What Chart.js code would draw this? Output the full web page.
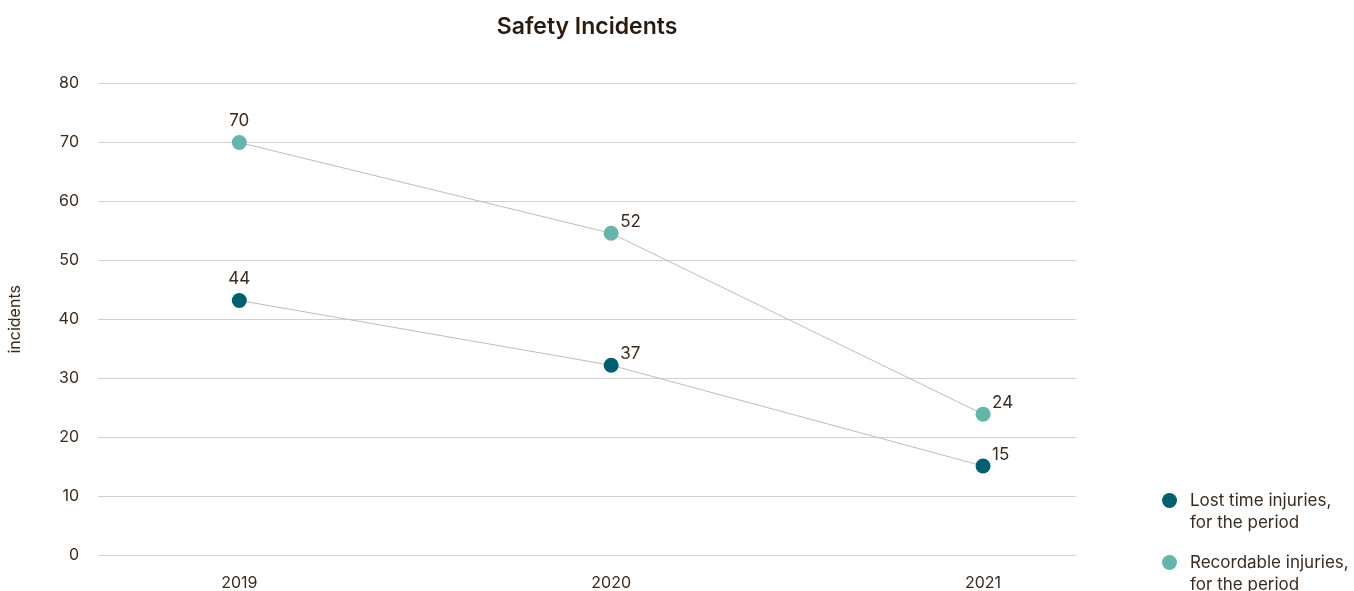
<!DOCTYPE html>
<html>
<head>
<meta charset="utf-8">
<script src="https://cdn.jsdelivr.net/npm/chart.js@4"></script>
<style>
  html, body { margin: 0; padding: 0; background: #fff; }
  #wrap { position: relative; width: 1354px; height: 591px; overflow: hidden; }
  #legend { position: absolute; left: 1162px; top: 489px; font-family: Inter, sans-serif; font-size: 17px; color: #3b2a20; }
  .item { display: flex; align-items: flex-start; margin-bottom: 18px; }
  .dot { width: 15px; height: 15px; border-radius: 50%; margin-top: 4px; margin-right: 13px; flex: none; }
  .txt { line-height: 22px; }
</style>
</head>
<body>
<div id="wrap">
  <canvas id="c" width="1354" height="591"></canvas>
  <div id="legend"></div>
</div>
<script>
const years = [2019, 2020, 2021];
const yearLabels = ["2019", "2020", "2021"];
const lostTime = [43.2, 32.2, 15.1];
const lostTimeLabels = ["44", "37", "15"];
const recordable = [70, 54.6, 23.9];
const recordableLabels = ["70", "52", "24"];
const seriesNames = [["Lost time injuries,", "for the period"], ["Recordable injuries,", "for the period"]];
const yTicks = [0, 10, 20, 30, 40, 50, 60, 70, 80];

const colLost = '#005f6e';
const colRec = '#66b5aa';
const textCol = '#3b2a20';
const fontFam = 'Inter, sans-serif';

const labelPlugin = {
  id: 'pointLabels',
  afterDatasetsDraw(chart) {
    const ctx = chart.ctx;
    ctx.save();
    ctx.font = '17px ' + fontFam;
    ctx.fillStyle = textCol;
    ctx.textBaseline = 'middle';
    chart.data.datasets.forEach((ds, di) => {
      const meta = chart.getDatasetMeta(di);
      meta.data.forEach((pt, i) => {
        const txt = ds.valueLabels[i];
        if (i === 0) {
          ctx.textAlign = 'center';
          ctx.fillText(txt, pt.x, pt.y - 22);
        } else {
          ctx.textAlign = 'left';
          ctx.fillText(txt, pt.x + 9, pt.y - 11);
        }
      });
    });
    ctx.restore();
  }
};

new Chart(document.getElementById('c'), {
  type: 'line',
  data: {
    datasets: [
      {
        label: seriesNames[0].join(' '),
        data: years.map((y, i) => ({ x: y, y: lostTime[i] })),
        valueLabels: lostTimeLabels,
        borderColor: '#bdbdbd',
        borderWidth: 1,
        pointBackgroundColor: colLost,
        pointBorderColor: colLost,
        pointRadius: 7.5,
        pointBorderWidth: 0,
        tension: 0
      },
      {
        label: seriesNames[1].join(' '),
        data: years.map((y, i) => ({ x: y, y: recordable[i] })),
        valueLabels: recordableLabels,
        borderColor: '#bdbdbd',
        borderWidth: 1,
        pointBackgroundColor: colRec,
        pointBorderColor: colRec,
        pointRadius: 7.5,
        pointBorderWidth: 0,
        tension: 0
      }
    ]
  },
  options: {
    responsive: false,
    animation: false,
    layout: { padding: { left: 0, right: 278, top: 0, bottom: 0 } },
    plugins: {
      legend: { display: false },
      tooltip: { enabled: false },
      title: {
        display: true,
        text: 'Safety Incidents',
        fullSize: false,
        color: '#2a1a10',
        font: { family: fontFam, size: 23, weight: '600' },
        padding: { top: 13, bottom: 43 }
      }
    },
    scales: {
      x: {
        type: 'linear',
        min: 2018.62,
        max: 2021.25,
        afterBuildTicks(scale) { scale.ticks = years.map(v => ({ value: v })); },
        afterFit(scale) { scale.height = 36; },
        grid: { display: false, drawTicks: false },
        border: { display: false },
        ticks: {
          color: textCol,
          font: { family: fontFam, size: 16 },
          padding: 19,
          autoSkip: false,
          maxRotation: 0,
          callback: (v) => { const i = years.indexOf(v); return i >= 0 ? yearLabels[i] : ''; }
        }
      },
      y: {
        min: 0,
        max: 80,
        afterBuildTicks(scale) { scale.ticks = yTicks.map(v => ({ value: v })); },
        afterFit(scale) { scale.width = 98; },
        grid: { color: '#d2d2d2', lineWidth: 1, drawTicks: false },
        border: { display: false },
        ticks: {
          color: textCol,
          font: { family: fontFam, size: 16 },
          padding: 19
        },
        title: {
          display: true,
          text: 'incidents',
          color: textCol,
          font: { family: fontFam, size: 16 },
          padding: { top: 6, bottom: 0 }
        }
      }
    }
  },
  plugins: [labelPlugin]
});

const legend = document.getElementById('legend');
[colLost, colRec].forEach((c, i) => {
  const item = document.createElement('div');
  item.className = 'item';
  const dot = document.createElement('div');
  dot.className = 'dot';
  dot.style.background = c;
  const txt = document.createElement('div');
  txt.className = 'txt';
  txt.innerHTML = seriesNames[i].join('<br>');
  item.appendChild(dot);
  item.appendChild(txt);
  legend.appendChild(item);
});
</script>
</body>
</html>
